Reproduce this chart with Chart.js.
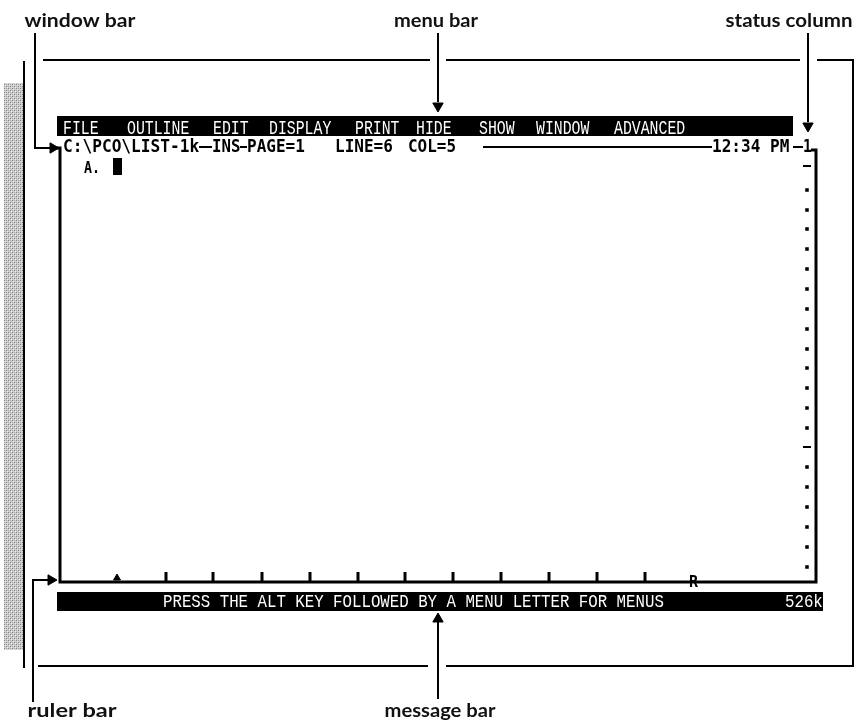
<!DOCTYPE html>
<html>
<head>
<meta charset="utf-8">
<script src="https://cdn.jsdelivr.net/npm/chart.js@4.4.1/dist/chart.umd.min.js"></script>
<style>
  html, body { margin: 0; padding: 0; background: #fff; }
  #wrap { width: 855px; height: 722px; }
</style>
</head>
<body>
<div id="wrap"><canvas id="screenChart" width="855" height="722"></canvas></div>
<script>
// Diagram units: x runs 0..855 left to right, y runs 0..722 top to bottom

// callout labels and their leader arrows
const calloutLabels = ['window bar', 'menu bar', 'status column', 'ruler bar', 'message bar'];
const calloutLabelAt = [[80, 27], [436, 27], [789, 27], [72, 717], [440, 717]];
const calloutLabelWidth = [111, 84, 127, 89, 111];
const calloutPaths = [
    [[35, 33], [35, 148], [50, 148]],
    [[438, 33], [438, 102]],
    [[808, 33], [808, 122]],
    [[33, 702], [33, 580], [48, 580]],
    [[438, 699], [438, 622]]
];
const calloutHeads = [[53, 148], [438, 106], [808, 126], [51, 580], [438, 619]];
const calloutHeadTurn = [90, 180, 180, 90, 0];

// outer page frame
const framePaths = [
    [[43, 60], [430, 60]],
    [[446, 60], [800, 60]],
    [[817, 60], [853, 60], [853, 666], [446, 666]],
    [[428, 666], [38, 666]],
    [[24, 61], [24, 668]]
];

// window border and ruler
const windowBorder = [[57, 148], [60, 148], [60, 582], [816, 582], [816, 150], [811, 150]];
const windowTopRules = [[199, 212], [240, 247], [483, 712], [793, 803]];
const rulerTicks = [166, 213, 262, 310, 358, 405, 453, 501, 549, 597, 645];
const rulerMarkerX = 117;

// status column marks
const statusDots = [190, 210, 229, 249, 269, 289, 309, 329, 349, 368, 388, 408, 428, 467, 487, 507, 527, 547, 567];
const statusDashes = [166, 447];

// screen text
const menuItems = ['FILE', 'OUTLINE', 'EDIT', 'DISPLAY', 'PRINT', 'HIDE', 'SHOW', 'WINDOW', 'ADVANCED'];
const menuItemX = [63, 127, 213, 269, 355, 416, 479, 536, 614];
const windowBarItems = ['C:\\PCO\\LIST-1k', 'INS', 'PAGE=1', 'LINE=6', 'COL=5', '12:34 PM', '1'];
const windowBarX = [63, 212, 247, 335, 408, 712, 803];
const messageItems = ['PRESS THE ALT KEY FOLLOWED BY A MENU LETTER FOR MENUS', '526k'];
const messageX = [163, 785];

const X_MAX = 855;
const Y_MAX = 722;

function pts(path) {
    return path.map(p => ({ x: p[0], y: p[1] }));
}

function lineSet(path, width, color) {
    return {
        type: 'line',
        data: pts(path),
        borderColor: color || '#000',
        borderWidth: width || 2,
        borderCapStyle: 'butt',
        pointRadius: 0,
        fill: false,
        tension: 0,
        clip: false
    };
}

// stippled grey band on the page edge
function makeStipple() {
    const c = document.createElement('canvas');
    c.width = 4; c.height = 4;
    const g = c.getContext('2d');
    g.fillStyle = '#cfcfcf';
    g.fillRect(0, 0, 4, 4);
    g.fillStyle = '#808080';
    g.fillRect(0, 0, 1, 1);
    g.fillRect(2, 2, 1, 1);
    g.fillStyle = '#a8a8a8';
    g.fillRect(2, 0, 1, 1);
    g.fillRect(0, 2, 1, 1);
    g.fillStyle = '#e6e6e6';
    g.fillRect(1, 1, 1, 1);
    g.fillRect(3, 3, 1, 1);
    return g.createPattern(c, 'repeat');
}

const datasets = [];

// black bars first in the list so they sit above the grey band
datasets.push(lineSet([[57, 126], [793, 126]], 20));
datasets.push(lineSet([[57, 601.5], [823, 601.5]], 19));
// cursor block
datasets.push(lineSet([[117.5, 158], [117.5, 175]], 9));
datasets.push(lineSet([[115, 172.5], [120, 172.5]], 2, '#fff'));

framePaths.forEach(p => datasets.push(lineSet(p, 2)));
datasets.push(lineSet(windowBorder, 3));
windowTopRules.forEach(r => datasets.push(lineSet([[r[0], 147], [r[1], 147]], 2)));
calloutPaths.forEach(p => datasets.push(lineSet(p, 2)));

datasets.push({
    type: 'scatter',
    data: calloutHeads.map(h => ({ x: h[0], y: h[1] })),
    pointStyle: 'triangle',
    pointRadius: 6,
    pointRotation: calloutHeadTurn,
    backgroundColor: '#000',
    borderColor: '#000',
    borderWidth: 1,
    clip: false
});

datasets.push({
    type: 'scatter',
    data: rulerTicks.map(t => ({ x: t, y: 577 })),
    pointStyle: 'line',
    pointRadius: 5,
    pointRotation: 90,
    borderColor: '#000',
    borderWidth: 3,
    clip: false
});

datasets.push({
    type: 'scatter',
    data: [{ x: rulerMarkerX, y: 578 }],
    pointStyle: 'triangle',
    pointRadius: 4,
    backgroundColor: '#000',
    borderColor: '#000',
    clip: false
});

datasets.push({
    type: 'scatter',
    data: statusDots.map(d => ({ x: 807, y: d })),
    pointStyle: 'rect',
    pointRadius: 2.5,
    backgroundColor: '#000',
    borderWidth: 0,
    clip: false
});

datasets.push({
    type: 'scatter',
    data: statusDashes.map(d => ({ x: 807, y: d })),
    pointStyle: 'line',
    pointRadius: 4,
    borderColor: '#000',
    borderWidth: 2,
    clip: false
});

datasets.push(lineSet([[13.5, 83], [13.5, 650]], 19, makeStipple()));

// draw text squeezed or stretched to the width it has on screen
function fitText(ctx, text, left, width, baseline) {
    const w = ctx.measureText(text).width;
    ctx.save();
    ctx.translate(left, baseline);
    ctx.scale(width / w, 1);
    ctx.fillText(text, 0, 0);
    ctx.restore();
}

const screenText = {
    id: 'screenText',
    afterDatasetsDraw(chart) {
        const { ctx, scales: { x, y } } = chart;
        ctx.save();
        ctx.textBaseline = 'alphabetic';
        ctx.textAlign = 'left';

        // callout labels
        ctx.fillStyle = '#111';
        ctx.font = 'bold 19px Lato';
        calloutLabels.forEach((t, i) => {
            const w = calloutLabelWidth[i];
            fitText(ctx, t, x.getPixelForValue(calloutLabelAt[i][0] - w / 2), w, y.getPixelForValue(calloutLabelAt[i][1]));
        });

        // menu bar, white on black
        ctx.fillStyle = '#fff';
        ctx.font = '20px "Liberation Mono"';
        menuItems.forEach((t, i) => {
            fitText(ctx, t, x.getPixelForValue(menuItemX[i]), t.length * 8.9, y.getPixelForValue(134));
        });

        // message bar
        ctx.font = '19px "Liberation Mono"';
        messageItems.forEach((t, i) => {
            fitText(ctx, t, x.getPixelForValue(messageX[i]), t.length * 9.45, y.getPixelForValue(607));
        });

        // window bar, bold
        ctx.fillStyle = '#000';
        ctx.font = 'bold 17px "DejaVu Sans Mono"';
        windowBarItems.forEach((t, i) => {
            fitText(ctx, t, x.getPixelForValue(windowBarX[i]), t.length * 9.8 - 1, y.getPixelForValue(152));
        });

        // outline entry and ruler margin letter
        ctx.font = 'bold 15px "DejaVu Sans Mono"';
        fitText(ctx, 'A.', x.getPixelForValue(84), 16, y.getPixelForValue(173));
        fitText(ctx, 'R', x.getPixelForValue(689), 9, y.getPixelForValue(587));
        ctx.restore();
    }
};

new Chart(document.getElementById('screenChart'), {
    type: 'scatter',
    data: { datasets: datasets },
    options: {
        responsive: false,
        animation: false,
        events: [],
        layout: { padding: 0, autoPadding: false },
        plugins: {
            legend: { display: false },
            tooltip: { enabled: false }
        },
        scales: {
            x: { type: 'linear', min: 0, max: X_MAX, display: false },
            y: { type: 'linear', min: 0, max: Y_MAX, reverse: true, display: false }
        }
    },
    plugins: [screenText]
});
</script>
</body>
</html>
